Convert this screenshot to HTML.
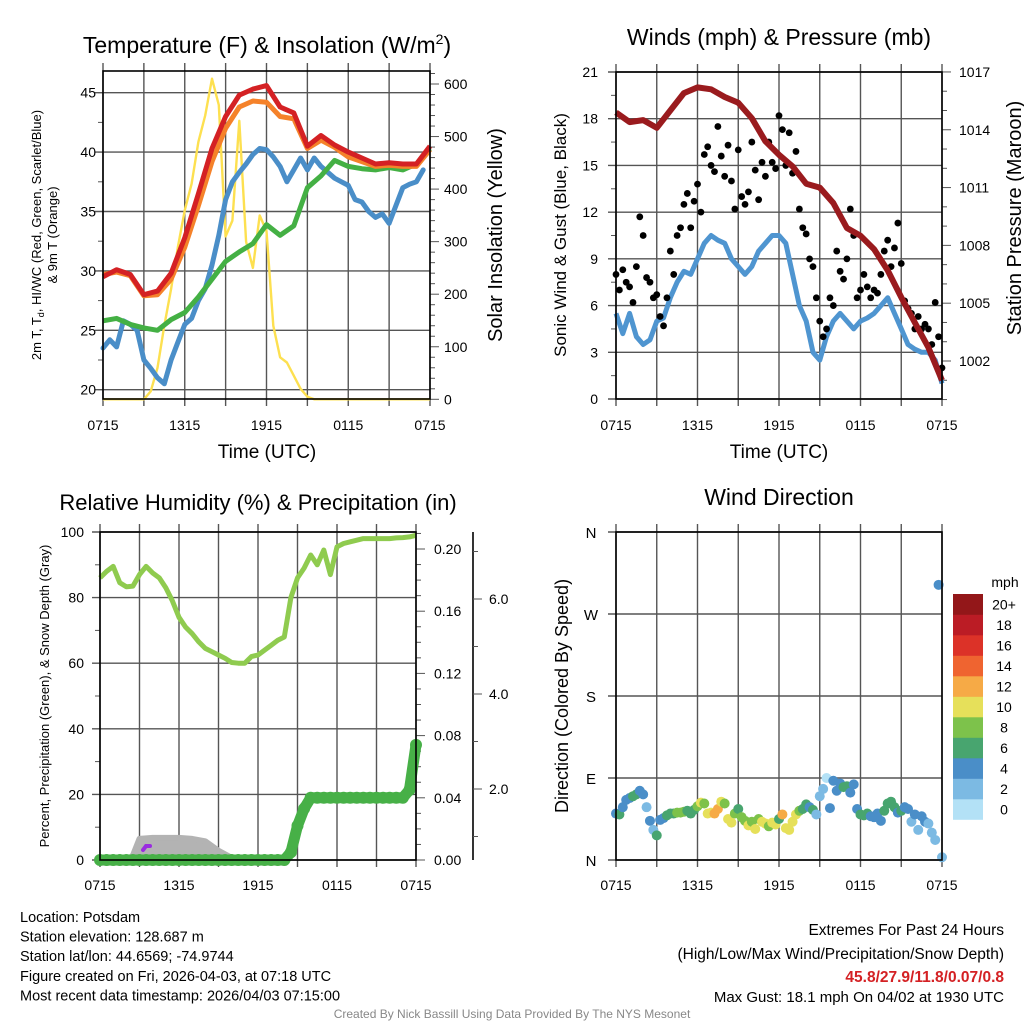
<!DOCTYPE html>
<html><head><meta charset="utf-8"><style>
html,body{margin:0;padding:0;background:#fff;}
svg{display:block;font-family:"Liberation Sans",Arial,sans-serif;}
</style></head><body>
<svg id="chart" width="1024" height="1024" viewBox="0 0 1024 1024" xmlns="http://www.w3.org/2000/svg"></svg>
<script>
// ---------- DATA ----------
const timeLabels = ["0715","1315","1915","0115","0715"];
// Panel 1 (hourly, 0..24h)
const tempRed = [29.5,30.1,29.7,28.0,28.3,29.8,32.8,36.5,40.3,43.0,44.8,45.3,45.6,43.8,43.3,40.5,41.4,40.6,40.0,39.5,39.0,39.1,39.0,39.0,40.5];
const tempOrange = [29.7,29.9,29.6,27.9,28.0,29.3,32.0,35.5,39.2,42.0,43.8,44.3,44.2,43.0,42.8,40.3,41.0,40.4,39.6,39.2,38.8,38.9,38.8,38.8,40.2];
const tempGreen = [25.8,26.0,25.5,25.2,25.0,25.9,26.5,27.8,29.3,30.8,31.6,32.3,33.9,33.0,33.8,37.0,38.0,39.3,38.8,38.6,38.5,38.7,38.5,39.0,40.3];
// half-hourly
const tempBlue = [23.5,24.2,23.6,25.8,25.5,25.0,22.5,21.8,21.0,20.5,22.5,24.0,25.5,26.0,27.5,28.5,30.5,33.0,36.0,37.5,38.3,39.0,39.8,40.3,40.2,39.6,38.8,37.5,38.5,39.5,38.5,39.5,38.8,38.3,37.8,37.5,37.2,36.0,35.8,35.0,34.5,34.8,34.0,35.5,37.0,37.3,37.5,38.5,null];
const solar = [0,0,0,0,0,0,0,15,60,140,210,290,360,410,490,540,610,560,310,340,530,300,250,350,320,140,80,70,45,20,5,0,0,0,0,0,0,0,0,0,0,0,0,0,0,0,0,0,0];
const tempTicks = [20,25,30,35,40,45];
const solarTicks = [0,100,200,300,400,500,600];
// Panel 2
const windSpeed = [5.5,4.2,5.5,4.0,3.5,3.8,5.0,5.2,6.5,7.5,8.2,8.0,9.0,10.0,10.5,10.2,10.0,9.0,8.5,8.0,8.5,9.5,10.0,10.5,10.5,10.0,8.0,6.0,5.0,3.0,2.5,4.0,5.0,5.5,5.0,4.5,5.0,5.2,5.5,6.0,6.5,5.5,4.5,3.5,3.2,3.0,3.0,2.5,1.0];
const windGust = [8.0,7.0,8.3,7.5,7.2,6.2,8.5,11.7,10.5,7.8,7.5,6.5,6.7,5.3,4.7,6.5,9.5,8.0,10.5,11.0,12.5,13.2,11.0,12.7,13.8,12.0,15.7,16.2,15.0,14.6,17.5,15.6,14.3,16.3,14.0,12.2,16.0,13.0,12.5,13.3,16.5,14.7,12.8,15.2,14.3,16.5,15.2,14.8,18.2,17.3,15.0,17.1,14.5,15.9,12.2,11.0,10.6,9.0,8.5,6.5,5.0,4.0,4.5,6.5,6.0,9.5,8.2,7.7,9.0,12.2,10.5,6.5,7.0,8.0,7.2,6.5,7.0,6.8,8.0,9.5,10.2,8.5,9.7,11.3,8.7,6.3,5.8,5.5,4.5,5.3,4.5,4.8,4.5,3.5,6.2,4.0,2.0];
const pressure = [1014.9,1014.4,1014.5,1014.1,1015.0,1015.9,1016.2,1016.1,1015.7,1015.4,1014.6,1013.4,1012.7,1012.1,1011.2,1011.0,1010.2,1008.9,1008.5,1007.8,1006.7,1005.3,1004.0,1002.7,1001.0];
const windTicks = [0,3,6,9,12,15,18,21];
const pressTicks = [1002,1005,1008,1011,1014,1017];
// Panel 3
const rh = [86,88,89.5,84.5,83.3,83.5,87,89.5,87.5,86,83,79,74,71,69,66.5,64.5,63.5,62.5,61.5,60.2,60,60,62,62.5,64,65.5,67,68,80,86,89,93,90,94.5,87,95.5,96.5,97,97.5,98,98,98,98,98,98.2,98.3,98.5,99];
const precip = [0,0,0,0,0,0,0,0,0,0,0,0,0,0,0,0,0,0,0,0,0,0,0,0,0,0,0,0,0,0.005,0.022,0.033,0.040,0.040,0.040,0.040,0.040,0.040,0.040,0.040,0.040,0.040,0.040,0.040,0.040,0.040,0.040,0.045,0.074];
const snowHours = [0,1,2,2.5,3,4,5,6,7,8,9,10,11,12,13,14];
const snowDepth = [0.5,0.55,0.5,0.6,0.95,0.97,0.97,0.97,0.95,0.9,0.7,0.55,0.55,0.5,0.5,0.5];
const rhTicks = [0,20,40,60,80,100];
const precipTicks = [0,0.04,0.08,0.12,0.16,0.20];
const snowTicks = [2,4,6];
// Panel 4 (quarter-hourly)
const windDir = [51,50,58,66,68,70,72,76,72,58,43,33,27,44,46,49,51,51,52,52,53,54,51,55,59,63,62,51,52,51,56,64,62,45,41,51,56,47,43,38,42,34,45,42,40,37,41,39,45,50,35,33,42,50,54,56,61,58,55,50,70,78,90,57,87,76,84,80,81,74,83,56,50,49,51,48,47,51,43,54,62,64,58,52,54,58,56,42,50,33,48,42,40,30,22,302,3];
const dirSpeed = [5,6,4.5,4.5,5,6.5,6.5,4.5,5,2.5,5,3,6.5,4.5,4.5,6.5,7,7.5,8.5,8.5,8.5,7.5,7.5,7.5,8.5,10.5,9.5,10.5,10.5,12.5,12.5,10.5,8.5,10.5,10.5,9,7,8.5,9.5,10.5,8.5,11,9,11,10.5,8.5,10.5,11,7,12.5,10.5,11,10.5,10.5,8.5,7,7,5,7,3,2.5,2.5,1.5,4.5,4.5,5,4.5,6.5,7,5,4.5,4.5,6.5,6.5,6.5,5,4.5,4.5,5,7,7,7,7.5,5,6.5,4.5,4.5,2.5,4.5,2.5,4,4,3,3,2.5,4,2.5];
const dirLabels = ["N","E","S","W","N"];
const speedBins = ["0","2","4","6","8","10","12","14","16","18","20+"];
const binColors = ["#b3e1f6","#7cbae3","#4a8ec8","#48a56f","#7dc24b","#e6e05a","#f6aa46","#ef6430","#dc3228","#bb1c25","#931719"];

// ---------- HELPERS ----------
const NS='http://www.w3.org/2000/svg';
const svg=document.getElementById('chart');
function mk(tag,attrs,parent){const e=document.createElementNS(NS,tag);for(const k in attrs)e.setAttribute(k,attrs[k]);(parent||svg).appendChild(e);return e;}
function txt(x,y,s,size,anchor,parent,extra){const t=mk('text',Object.assign({x:x,y:y,'font-size':size,'text-anchor':anchor||'middle',fill:'#000'},extra||{}),parent);t.textContent=s;return t;}
function pathD(xs,ys){let d='',pen=false;for(let i=0;i<xs.length;i++){if(ys[i]===null||ys[i]===undefined){pen=false;continue;}d+=(pen?'L':'M')+xs[i].toFixed(1)+' '+ys[i].toFixed(1);pen=true;}return d;}
function grid(g,L,R,T,B,xPos,yPos){
  xPos.forEach(x=>{const l=mk('line',{x1:x,x2:x,y1:T-8,y2:B+7,stroke:'#555','stroke-width':1.4},g);
  
  });
  yPos.forEach(y=>{const l=mk('line',{x1:L-8,x2:R,y1:y,y2:y,stroke:'#555','stroke-width':1.4},g);
  
  });
}
function frame(g,L,R,T,B){const r=mk('rect',{x:L,y:T,width:R-L,height:B-T,fill:'none',stroke:'#000','stroke-width':1.6},g);

}

// ================= PANEL 1 =================
(function(){
const g=mk('g',{});


const L=103,R=430,T=71,B=399;
const x=h=>L+h/24*(R-L);
const yT=v=>389.7-(v-20)*11.88;
const yS=w=>399.3-w*0.5255;
const vx=[0,3,6,9,12,15,18,21,24].map(x);
grid(g,L,R,T,B,vx,tempTicks.map(yT));
for(let v=20;v<=46;v+=2.5){const l=mk('line',{x1:L-5,x2:L,y1:yT(v),y2:yT(v),stroke:'#555','stroke-width':1},g);

}
for(let w=0;w<=620;w+=20){const l=mk('line',{x1:R,x2:R+(w%100===0?9:5),y1:yS(w),y2:yS(w),stroke:'#555','stroke-width':1},g);

}
const hs=n=>Array.from({length:n},(_,i)=>i*24/(n-1));
const sp=mk('path',{d:pathD(hs(solar.length).map(x),solar.map(yS)),fill:'none',stroke:'#fde050','stroke-width':2.4,'stroke-linejoin':'round'},g);


const bl=mk('path',{d:pathD(hs(tempBlue.length).map(x),tempBlue.map(v=>v===null?null:yT(v))),fill:'none',stroke:'#4a8ec8','stroke-width':5,'stroke-linejoin':'round','stroke-linecap':'round'},g);


const gr=mk('path',{d:pathD(hs(25).map(x),tempGreen.map(yT)),fill:'none',stroke:'#44b044','stroke-width':5,'stroke-linejoin':'round'},g);


const or=mk('path',{d:pathD(hs(25).map(x),tempOrange.map(yT)),fill:'none',stroke:'#f5822a','stroke-width':5,'stroke-linejoin':'round'},g);


const rd=mk('path',{d:pathD(hs(25).map(x),tempRed.map(yT)),fill:'none',stroke:'#d42124','stroke-width':5,'stroke-linejoin':'round'},g);


frame(g,L,R,T,B);
tempTicks.forEach(v=>{const t=txt(96,yT(v)+5,String(v),14,'end',g);

});
solarTicks.forEach(v=>{const t=txt(444,yS(v)+5,String(v),14,'start',g);

});
timeLabels.forEach((s,i)=>{const t=txt(x(i*6),430,s,14,'middle',g);

});
const ti=txt(267,53,'',23,'middle',g);ti.innerHTML='Temperature (F) &amp; Insolation (W/m<tspan dy="-9" font-size="14">2</tspan><tspan dy="9">)</tspan>';


const xt=txt(267,458,'Time (UTC)',19,'middle',g);


const yl=mk('text',{transform:'translate(41,235) rotate(-90)','font-size':13,'text-anchor':'middle'},g);yl.innerHTML='2m T, T<tspan dy="3" font-size="9">d</tspan><tspan dy="-3">, HI/WC (Red, Green, Scarlet/Blue)</tspan>';


const yl2=txt(0,0,'& 9m T (Orange)',13,'middle',g,{transform:'translate(57,235) rotate(-90)'});


const yr=txt(0,0,'Solar Insolation (Yellow)',20,'middle',g,{transform:'translate(502,235) rotate(-90)'});


})();

// ================= PANEL 2 =================
(function(){
const g=mk('g',{});


const L=616,R=942,T=72,B=399;
const x=h=>L+h/24*(R-L);
const yW=v=>399-v*(327/21);
const yP=p=>361-(p-1002)*19.27;
grid(g,L,R,T,B,[0,3,6,9,12,15,18,21,24].map(x),windTicks.map(yW));
for(let p=1000;p<=1017;p+=1){const l=mk('line',{x1:R,x2:R+((p-1002)%3===0?9:5),y1:yP(p),y2:yP(p),stroke:'#555','stroke-width':1},g);

}
for(let v=1.5;v<21;v+=3){const l=mk('line',{x1:L-5,x2:L,y1:yW(v),y2:yW(v),stroke:'#555','stroke-width':1},g);

}
const hs=n=>Array.from({length:n},(_,i)=>i*24/(n-1));
const ws=mk('path',{d:pathD(hs(windSpeed.length).map(x),windSpeed.map(yW)),fill:'none',stroke:'#4f95d0','stroke-width':5,'stroke-linejoin':'round'},g);


const gx=hs(windGust.length);
windGust.forEach((v,i)=>{const c=mk('circle',{cx:x(gx[i]),cy:yW(v),r:3.4,fill:'#000'},g);

});
const pp=mk('path',{d:pathD(hs(pressure.length).map(x),pressure.map(yP)),fill:'none',stroke:'#9a1b1e','stroke-width':6,'stroke-linejoin':'round'},g);


frame(g,L,R,T,B);
windTicks.forEach(v=>{const t=txt(598,yW(v)+5,String(v),14,'end',g);

});
pressTicks.forEach(v=>{const t=txt(959,yP(v)+5,String(v),14,'start',g);

});
timeLabels.forEach((s,i)=>{const t=txt(x(i*6),430,s,14,'middle',g);

});
const ti=txt(779,45,'Winds (mph) & Pressure (mb)',23,'middle',g);


const xt=txt(779,458,'Time (UTC)',19,'middle',g);


const yl=txt(0,0,'Sonic Wind & Gust (Blue, Black)',17,'middle',g,{transform:'translate(566,235) rotate(-90)'});


const yr=txt(0,0,'Station Pressure (Maroon)',20,'middle',g,{transform:'translate(1021,218) rotate(-90)'});


})();

// ================= PANEL 3 =================
(function(){
const g=mk('g',{});


const L=100,R=416,T=532,B=860;
const x=h=>L+h/24*(R-L);
const yR=v=>860-v*3.28;
const yPr=v=>860-v*1555;
const ySn=v=>884-v*47.5;
grid(g,L,R,T,B,[0,3,6,9,12,15,18,21,24].map(x),rhTicks.map(yR));
for(let v=10;v<100;v+=20){const l=mk('line',{x1:L-5,x2:L,y1:yR(v),y2:yR(v),stroke:'#555','stroke-width':1},g);

}
for(let k=0;k<=21;k++){const v=k*0.01;const l=mk('line',{x1:R,x2:R+(k%4===0?9:5),y1:yPr(v),y2:yPr(v),stroke:'#555','stroke-width':1},g);

}
const sa=mk('line',{x1:473,x2:473,y1:T,y2:B,stroke:'#000','stroke-width':1.6},g);


for(let v=1;v<=7;v++){const l=mk('line',{x1:473,x2:473+(v%2===0?9:5),y1:ySn(v),y2:ySn(v),stroke:'#555','stroke-width':1},g);

}
let d='M'+x(snowHours[0])+' '+ySn(0.45);
snowHours.forEach((h,i)=>{d+='L'+x(h).toFixed(1)+' '+ySn(snowDepth[i]).toFixed(1);});
d+='L'+x(snowHours[snowHours.length-1])+' '+ySn(0.45)+'Z';
const sn=mk('path',{d:d,fill:'#b3b3b3',stroke:'#b3b3b3','stroke-width':6,'stroke-linejoin':'round'},g);


const pu=mk('path',{d:'M143 850 L146 846 L150 846',fill:'none',stroke:'#9a2be0','stroke-width':4,'stroke-linecap':'round'},g);


const hs=n=>Array.from({length:n},(_,i)=>i*24/(n-1));
const rl=mk('path',{d:pathD(hs(rh.length).map(x),rh.map(yR)),fill:'none',stroke:'#8fcb4f','stroke-width':5,'stroke-linejoin':'round'},g);


const px=hs(precip.length);
const pl=mk('path',{d:pathD(px.map(x),precip.map(yPr)),fill:'none',stroke:'#47b047','stroke-width':11,'stroke-linejoin':'round','stroke-linecap':'round'},g);


precip.forEach((v,i)=>{const c=mk('circle',{cx:x(px[i]),cy:yPr(v),r:6,fill:'#47b047'},g);

});
frame(g,L,R,T,B);
rhTicks.forEach(v=>{const t=txt(84,yR(v)+5,String(v),14,'end',g);

});
precipTicks.forEach(v=>{const t=txt(434,yPr(v)+5,v.toFixed(2),14,'start',g);

});
snowTicks.forEach(v=>{const t=txt(489,ySn(v)+5,v.toFixed(1),14,'start',g);

});
timeLabels.forEach((s,i)=>{const t=txt(x(i*6),890,s,14,'middle',g);

});
const ti=txt(258,510,'Relative Humidity (%) & Precipitation (in)',22,'middle',g);


const yl=txt(0,0,'Percent, Precipitation (Green), & Snow Depth (Gray)',13,'middle',g,{transform:'translate(49,696) rotate(-90)'});


})();

// ================= PANEL 4 =================
(function(){
const g=mk('g',{});


const L=616,R=942,T=532,B=860;
const x=h=>L+h/24*(R-L);
const yD=d=>860-d*(328/360);
grid(g,L,R,T,B,[0,3,6,9,12,15,18,21,24].map(x),[0,90,180,270,360].map(yD));
const hs=n=>Array.from({length:n},(_,i)=>i*24/(n-1));
const dx=hs(windDir.length);
windDir.forEach((d,i)=>{const b=Math.min(10,Math.floor(dirSpeed[i]/2));
const c=mk('circle',{cx:x(dx[i]),cy:yD(d),r:5,fill:binColors[b]},g);

});
frame(g,L,R,T,B);
dirLabels.forEach((s,i)=>{const t=txt(591,yD(i*90)+6,s,15,'middle',g);

});
timeLabels.forEach((s,i)=>{const t=txt(x(i*6),890,s,14,'middle',g);

});
const ti=txt(779,505,'Wind Direction',23,'middle',g);


const yl=txt(0,0,'Direction (Colored By Speed)',18,'middle',g,{transform:'translate(568,696) rotate(-90)'});


const cb=mk('g',{},g);


const bh=20.5;
speedBins.forEach((s,i)=>{const y=594+(10-i)*bh;
const r=mk('rect',{x:953,y:y,width:30,height:bh+0.3,fill:binColors[i]},cb);


const t=txt(1004,y+bh/2+5,s,14,'middle',cb);

});
const mp=txt(1005,587,'mph',14,'middle',cb);


})();

// ================= FOOTER =================
(function(){
const g=mk('g',{});


const left=["Location: Potsdam","Station elevation: 128.687 m","Station lat/lon: 44.6569; -74.9744","Figure created on Fri, 2026-04-03, at 07:18 UTC","Most recent data timestamp: 2026/04/03 07:15:00"];
left.forEach((s,i)=>{const t=txt(20,922+i*19.6,s,14.5,'start',g);

});
const r1=txt(1004,935,'Extremes For Past 24 Hours',15.5,'end',g);


const r2=txt(1004,959,'(High/Low/Max Wind/Precipitation/Snow Depth)',15.5,'end',g);


const r3=txt(1004,982,'45.8/27.9/11.8/0.07/0.8',15.5,'end',g,{fill:'#d42124','font-weight':'bold'});


const r4=txt(1004,1002,'Max Gust: 18.1 mph On 04/02 at 1930 UTC',15,'end',g);


const cr=txt(512,1018,'Created By Nick Bassill Using Data Provided By The NYS Mesonet',12,'middle',g,{fill:'#888'});


})();
</script>
</body></html>
